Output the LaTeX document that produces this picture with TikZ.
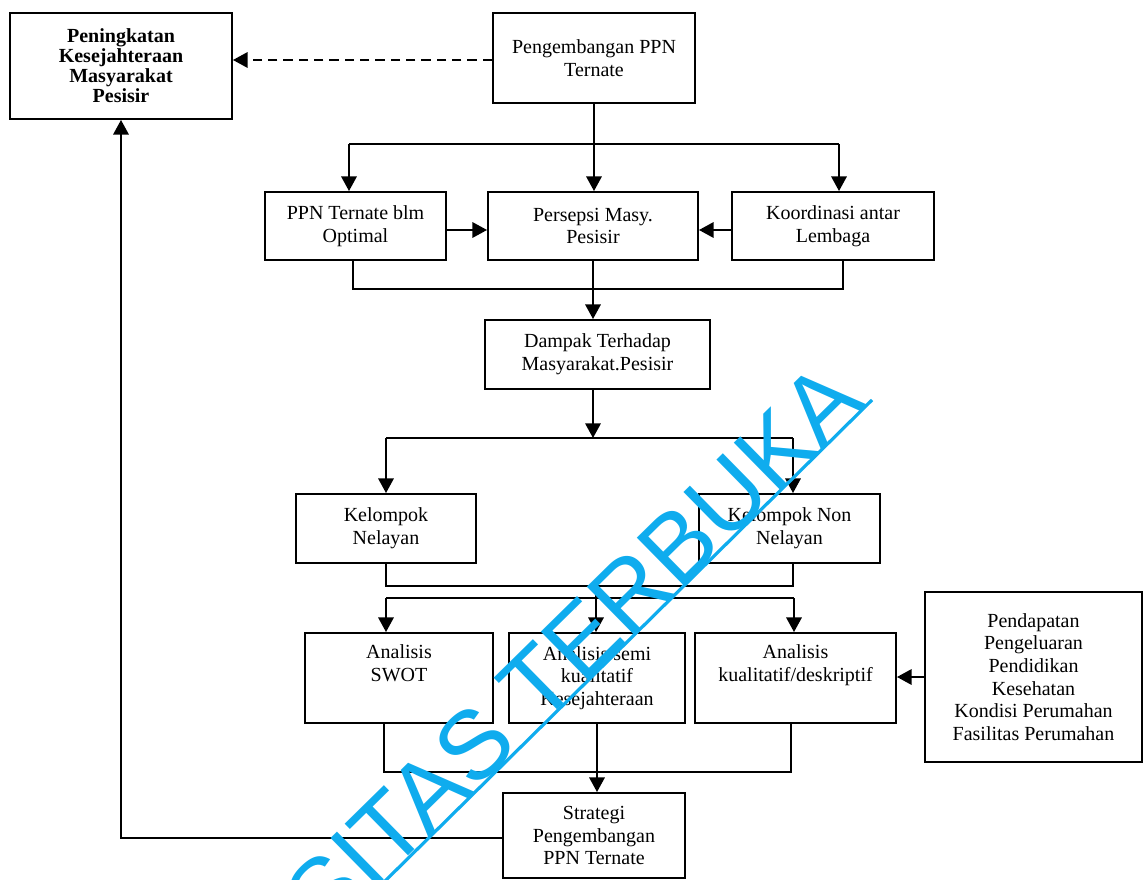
\documentclass[tikz,border=0pt]{standalone}
\usepackage{fontspec}
\setmainfont{Liberation Serif}
\newfontfamily\wmfont{Liberation Sans}
\usetikzlibrary{arrows.meta,calc}
\definecolor{wmblue}{RGB}{15,172,238}
\begin{document}
\begin{tikzpicture}[x=0.75pt,y=-0.75pt,
  box/.style={draw,line width=1.4pt,rectangle,inner sep=0pt,align=center,font=\fontsize{15}{17}\selectfont},
  sz/.style 2 args={minimum width=#1*0.75pt,minimum height=#2*0.75pt},
  arr/.style={line width=1.7pt,-{Triangle[length=11pt,width=11.5pt]}},
  bus/.style={line width=1.7pt},
  ln/.style={line width=1.1pt},
]
\useasboundingbox (0,0) rectangle (1144,880);

% boxes
\node[box,sz={222}{106},font=\bfseries\fontsize{15}{15}\selectfont] (pk) at (121,66) {Peningkatan\\Kesejahteraan\\Masyarakat\\Pesisir};
\node[box,sz={202}{90}] (pg) at (594,58) {Pengembangan PPN\\Ternate};
\node[box,sz={181}{68}] (pb) at (355.5,226) {PPN Ternate blm\\Optimal};
\node[box,sz={210}{68}] (ps) at (593,226) {Persepsi Masy.\\Pesisir};
\node[box,sz={202}{68}] (ko) at (833,226) {Koordinasi antar\\Lembaga};
\node[box,sz={225}{69}] (dp) at (597.5,354.5) {Dampak Terhadap\\Masyarakat.Pesisir};
\node[box,sz={180}{69}] (kn) at (386,528.5) {Kelompok\\Nelayan};
\node[box,sz={181}{69}] (knn) at (789.5,528.5) {Kelompok Non\\Nelayan};
\node[box,sz={188}{90}] (sw) at (399,678) {Analisis\\SWOT\\\strut};
\node[box,sz={176}{90}] (sm) at (597,678) {Analisis semi\\kualitatif\\Kesejahteraan};
\node[box,sz={201}{90}] (kl) at (795.5,678) {Analisis\\kualitatif/deskriptif\\\strut};
\node[box,sz={217}{170}] (rt) at (1033.5,677) {Pendapatan\\Pengeluaran\\Pendidikan\\Kesehatan\\Kondisi Perumahan\\Fasilitas Perumahan};
\node[box,sz={182}{85}] (st) at (594,835.5) {Strategi\\Pengembangan\\PPN Ternate};

% junction coordinates
\coordinate (j1l) at (349,144);
\coordinate (j1r) at (839,144);
\coordinate (b1l) at (353,289);
\coordinate (b1r) at (843,289);
\coordinate (j2) at (593,438);
\coordinate (j2l) at (386,438);
\coordinate (j2r) at (793,438);
\coordinate (b2l) at (386,586);
\coordinate (b2r) at (793,586);
\coordinate (j3c) at (596,586);
\coordinate (j3l) at (386,598);
\coordinate (j3r) at (794,598);
\coordinate (b3l) at (384,772);
\coordinate (b3r) at (791,772);

% connectors
\draw[arr,dash pattern=on 7pt off 4.5pt] ($(pg.west)+(0,2)$) -- ($(pg.west -| pk.east)+(0,2)$);
\draw[arr] (pg.south) -- (pg.south |- ps.north);
\draw[bus] (j1l) -- (j1r);
\draw[arr] (j1l) -- (j1l |- pb.north);
\draw[arr] (j1r) -- (j1r |- ko.north);
\draw[arr] ($(pb.east)+(0,4)$) -- ($(ps.west)+(0,4)$);
\draw[arr] ($(ko.west)+(0,4)$) -- ($(ps.east)+(0,4)$);
\draw[ln] (b1l |- pb.south) -- (b1l) -- (b1r) -- (b1r |- ko.south);
\draw[arr] (ps.south) -- (ps.south |- dp.north);
\draw[arr] (dp.south -| j2) -- (j2);
\draw[bus] (j2l) -- (j2r);
\draw[arr] (j2l) -- (j2l |- kn.north);
\draw[arr] (j2r) -- (j2r |- knn.north);
\draw[ln] (b2l |- kn.south) -- (b2l) -- (b2r) -- (b2r |- knn.south);
\draw[bus] (j3l) -- (j3r);
\draw[arr] (j3l) -- (j3l |- sw.north);
\draw[arr] (j3c) -- (j3c |- sm.north);
\draw[arr] (j3r) -- (j3r |- kl.north);
\draw[ln] (b3l |- sw.south) -- (b3l) -- (b3r) -- (b3r |- kl.south);
\draw[arr] (sm.south) -- (sm.south |- st.north);
\draw[arr] (rt.west) -- (rt.west -| kl.east);
\draw[arr] ($(st.west)+(0,2.5)$) -| (pk.south);

% watermark
\begin{scope}
\clip (0,0) rectangle (1144,880);
\node[text=wmblue,font=\wmfont\fontsize{73}{73}\selectfont,rotate=44.5,anchor=base east,inner sep=0pt] (wmt) at (868,405) {UNIVERSITAS TERBUKA};
\coordinate (wl1) at (378,888);
\coordinate (wl2) at (872,400);
\draw[wmblue,line width=2.4pt] (wl1) -- (wl2);
\end{scope}
\end{tikzpicture}
\end{document}
